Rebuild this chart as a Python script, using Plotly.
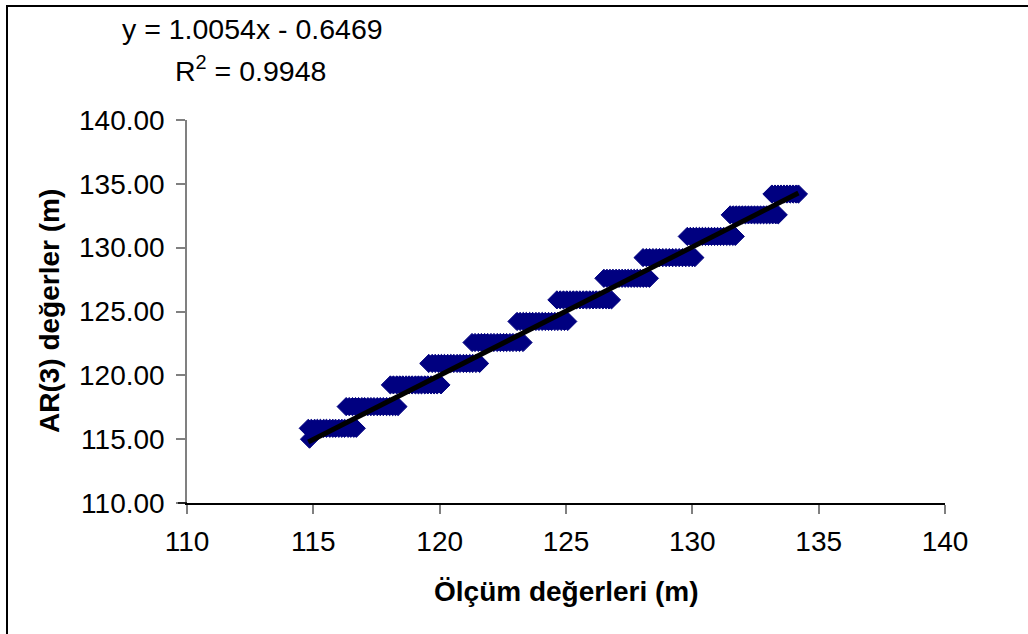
import plotly.graph_objects as go

# AR(3) model output levels (m) and the measured values (m) that map to each level
ar3_levels = [115.85, 117.55, 119.25, 120.93, 122.57, 124.22,
              125.91, 127.60, 129.22, 130.88, 132.57, 134.20]

measured_rows = [
    [114.80, 114.92, 115.05, 115.16, 115.28, 115.41, 115.52, 115.65, 115.77, 115.88, 116.01, 116.13, 116.24, 116.37, 116.48, 116.60, 116.70],
    [116.30, 116.42, 116.55, 116.67, 116.79, 116.92, 117.03, 117.16, 117.28, 117.40, 117.53, 117.65, 117.77, 117.90, 118.02, 118.14, 118.25, 118.35],
    [118.05, 118.17, 118.30, 118.42, 118.54, 118.67, 118.79, 118.91, 119.04, 119.16, 119.28, 119.41, 119.53, 119.66, 119.78, 119.90, 120.05],
    [119.57, 119.70, 119.82, 119.95, 120.07, 120.19, 120.32, 120.44, 120.56, 120.69, 120.81, 120.94, 121.06, 121.19, 121.31, 121.44, 121.58],
    [121.28, 121.40, 121.53, 121.65, 121.78, 121.90, 122.03, 122.15, 122.28, 122.40, 122.53, 122.65, 122.78, 122.90, 123.03, 123.16, 123.30],
    [123.06, 123.18, 123.31, 123.43, 123.56, 123.68, 123.81, 123.93, 124.06, 124.18, 124.31, 124.43, 124.56, 124.68, 124.81, 124.94, 125.07],
    [124.64, 124.77, 124.90, 125.03, 125.16, 125.29, 125.42, 125.55, 125.68, 125.81, 125.94, 126.07, 126.20, 126.33, 126.46, 126.59, 126.70, 126.80],
    [126.50, 126.62, 126.74, 126.86, 126.98, 127.10, 127.22, 127.34, 127.46, 127.58, 127.70, 127.82, 127.94, 128.06, 128.18, 128.30],
    [128.05, 128.18, 128.31, 128.44, 128.57, 128.70, 128.83, 128.96, 129.09, 129.22, 129.35, 129.48, 129.61, 129.74, 129.87, 130.00, 130.10],
    [129.80, 129.92, 130.04, 130.16, 130.28, 130.40, 130.52, 130.64, 130.76, 130.88, 131.00, 131.12, 131.24, 131.36, 131.48, 131.60, 131.70],
    [131.50, 131.62, 131.74, 131.86, 131.98, 132.10, 132.22, 132.34, 132.46, 132.58, 132.70, 132.82, 132.94, 133.06, 133.18, 133.30, 133.40],
    [133.15, 133.27, 133.39, 133.51, 133.63, 133.75, 133.87, 133.99, 134.11, 134.20],
]

extra_x = [114.85]
extra_y = [115.00]

# trendline coefficients (from the chart label)
slope = 1.0054
intercept = -0.6469
r_squared = 0.9948

x_ticks = [110, 115, 120, 125, 130, 135, 140]
y_ticks = [110, 115, 120, 125, 130, 135, 140]

xs, ys = [], []
for lvl, row in zip(ar3_levels, measured_rows):
    for v in row:
        xs.append(v)
        ys.append(lvl)
xs += extra_x
ys += extra_y

x_min, x_max = min(xs), max(xs)

FONT = "Liberation Sans, Arial, sans-serif"
NAVY = "#000080"

L, R, T, B = 187, 83, 120, 131
PW, PH = 1028 - L - R, 634 - T - B


def px(xp):
    return (xp - L) / PW


def py(yp):
    return (634 - B - yp) / PH


fig = go.Figure()
fig.add_trace(go.Scatter(
    x=xs, y=ys, mode="markers",
    marker=dict(symbol="diamond", size=14, color=NAVY,
                line=dict(color=NAVY, width=1)),
    showlegend=False, hoverinfo="skip"))
fig.add_trace(go.Scatter(
    x=[x_min, x_max],
    y=[slope * x_min + intercept, slope * x_max + intercept],
    mode="lines", line=dict(color="black", width=5),
    showlegend=False, hoverinfo="skip"))

fig.update_layout(
    width=1028, height=634,
    margin=dict(l=L, r=R, t=T, b=B),
    paper_bgcolor="white", plot_bgcolor="white",
    font=dict(family=FONT, size=28, color="black"),
    xaxis=dict(range=[110, 140], tickvals=x_ticks, ticktext=[str(t) for t in x_ticks],
               showgrid=False, zeroline=False, showline=True, linecolor="black",
               linewidth=1.5, ticks="outside", ticklen=9, tickcolor="#808080",
               tickwidth=1.5, ticklabelstandoff=4,
               tickfont=dict(family=FONT, size=28, color="black")),
    yaxis=dict(range=[110, 140], tickvals=y_ticks,
               ticktext=[f"{t:.2f}" for t in y_ticks],
               showgrid=False, zeroline=False, showline=True, linecolor="#808080",
               linewidth=1.5, ticks="outside", ticklen=9, tickcolor="#808080",
               tickwidth=1.5, ticklabelstandoff=6,
               tickfont=dict(family=FONT, size=28, color="black")),
    shapes=[
        dict(type="rect", xref="paper", yref="paper",
             x0=px(7), x1=px(1045), y0=py(660), y1=py(6),
             line=dict(color="black", width=2), fillcolor="rgba(0,0,0,0)", layer="below"),
        dict(type="line", xref="paper", yref="paper",
             x0=px(178), x1=0, y0=0, y1=0,
             line=dict(color="black", width=1.5)),
    ],
    annotations=[
        dict(text=f"y = {slope:.4f}x - {abs(intercept):.4f}", xref="paper", yref="paper",
             x=px(252), y=py(29), showarrow=False,
             xanchor="center", yanchor="middle", font=dict(size=28.5)),
        dict(text=f"R<sup>2</sup> = {r_squared:.4f}", xref="paper", yref="paper",
             x=px(250), y=py(69), showarrow=False,
             xanchor="center", yanchor="middle", font=dict(size=28.5)),
        dict(text="<b>Ölçüm değerleri (m)</b>", xref="paper", yref="paper",
             x=px(566), y=py(591), showarrow=False,
             xanchor="center", yanchor="middle", font=dict(size=28)),
        dict(text="<b>AR(3) değerler (m)</b>", xref="paper", yref="paper",
             x=px(49), y=py(311), showarrow=False, textangle=-90,
             xanchor="center", yanchor="middle", font=dict(size=28)),
    ],
)

fig.write_html("out.html", config={"displayModeBar": False},
               post_script="document.body.style.margin='0';document.body.style.overflow='hidden';")
